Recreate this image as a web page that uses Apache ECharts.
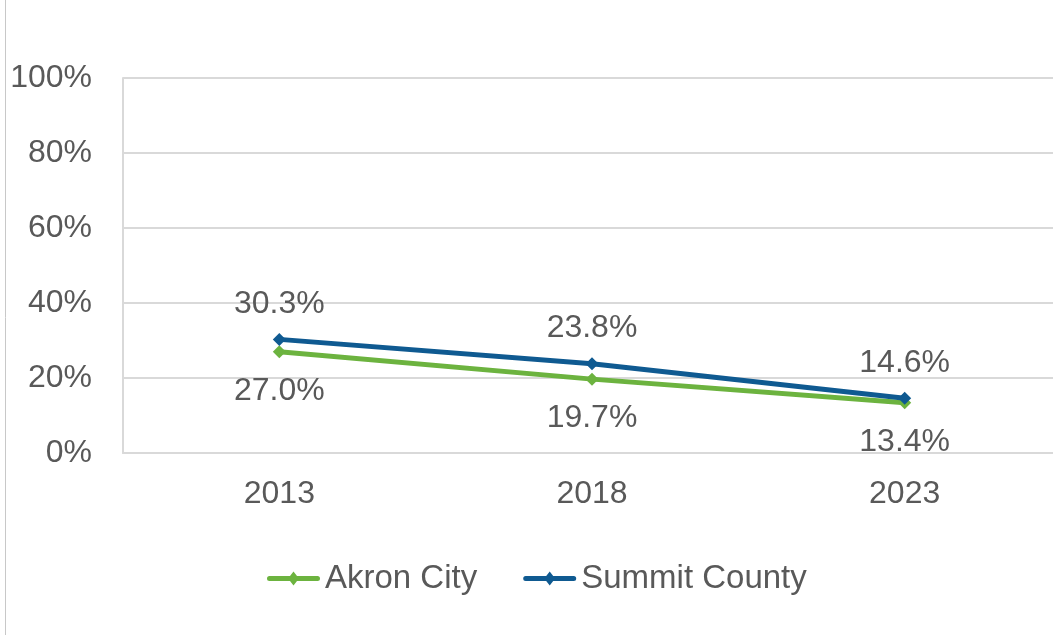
<!DOCTYPE html>
<html><head><meta charset="utf-8">
<script src="https://cdn.jsdelivr.net/npm/echarts@6/dist/echarts.min.js"></script>
<style>html,body{margin:0;padding:0;background:#fff}#c{width:1053px;height:635px}</style>
</head><body><div id="c"></div>
<script>
const years = ['2013', '2018', '2023'];
const akronCity = [27.0, 19.7, 13.4];
const summitCounty = [30.3, 23.8, 14.6];
const yTicks = [0, 20, 40, 60, 80, 100];

const chart = echarts.init(document.getElementById('c'));
const font = 'Liberation Sans, Arial, sans-serif';
const txt = '#595959';
const legIcon = 'path://M2.5,4.5L23,4.5L26.5,0L30,4.5L50.5,4.5Q53,4.5 53,7Q53,9.5 50.5,9.5L30,9.5L26.5,14L23,9.5L2.5,9.5Q0,9.5 0,7Q0,4.5 2.5,4.5Z';
chart.setOption({
  animation: false,
  graphic: [{type:'line', shape:{x1:5.5,y1:0,x2:5.5,y2:635}, style:{stroke:'#c8c8c8', lineWidth:1}}],
  grid: {left: 123, width: 938, top: 78, height: 375, containLabel: false, outerBoundsMode: 'none'},
  legend: {
    top: 557, left: 262, itemGap: 46, itemWidth: 53, itemHeight: 14,
    textStyle: {fontFamily: font, fontSize: 33, color: txt},
    data: [
      {name:'Akron City', icon: legIcon},
      {name:'Summit County', icon: legIcon}
    ]
  },
  xAxis: {
    type: 'category', data: years, boundaryGap: true,
    axisLine: {lineStyle:{color:'#d9d9d9', width:2}}, axisTick:{show:false},
    axisLabel: {fontFamily: font, fontSize: 32, color: txt, margin: 25}
  },
  yAxis: {
    type: 'value', min: 0, max: 100, interval: 20,
    axisLine: {show:true, lineStyle:{color:'#d9d9d9', width:2}}, axisTick:{show:false},
    splitLine: {lineStyle:{color:'#d9d9d9', width:2}},
    axisLabel: {fontFamily: font, fontSize: 32, color: txt, margin: 31,
      formatter: v => yTicks.includes(v) ? v + '%' : ''}
  },
  series: [
    {name:'Akron City', type:'line', data: akronCity, symbol:'diamond', symbolSize:13,
     color:'#6cb33f', lineStyle:{width:5, color:'#6cb33f'}, itemStyle:{color:'#6cb33f'},
     label:{show:true, position:'bottom', distance:17, fontFamily:font, fontSize:32, color:txt,
       formatter: p => p.value.toFixed(1) + '%'}},
    {name:'Summit County', type:'line', data: summitCounty, symbol:'diamond', symbolSize:13,
     color:'#0f5a91', lineStyle:{width:5, color:'#0f5a91'}, itemStyle:{color:'#0f5a91'},
     label:{show:true, position:'top', distance:13, fontFamily:font, fontSize:32, color:txt,
       formatter: p => p.value.toFixed(1) + '%'}}
  ]
});
</script></body></html>
